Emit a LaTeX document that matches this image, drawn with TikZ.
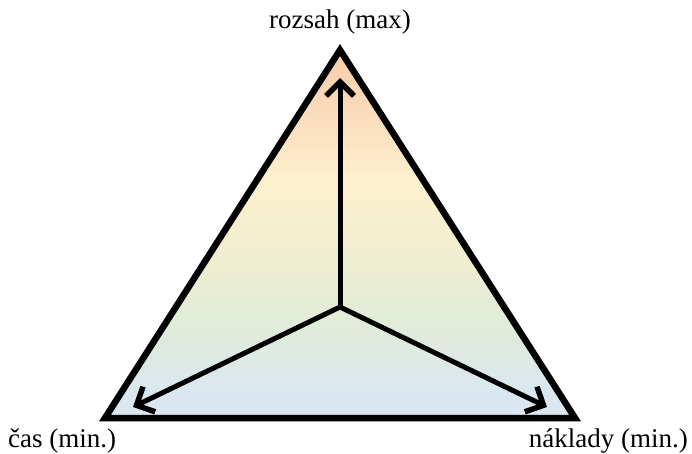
\documentclass[tikz,border=0pt]{standalone}
\usepackage{fontspec}
\setmainfont{Liberation Serif}
\usetikzlibrary{arrows.meta}
\definecolor{cpeach}{HTML}{F7CDA9}
\definecolor{cpeachl}{HTML}{FBDFBF}
\definecolor{cyel}{HTML}{FDF0CF}
\definecolor{cyel2}{HTML}{F1EECF}
\definecolor{cgreen}{HTML}{E2ECD6}
\definecolor{cblue}{HTML}{DAE7F1}
\pgfdeclareverticalshading{tri}{100bp}{color(0bp)=(cblue); color(28bp)=(cblue); color(39bp)=(cgreen); color(48bp)=(cyel2); color(57bp)=(cyel); color(65bp)=(cpeachl); color(75bp)=(cpeach); color(100bp)=(cpeach)}
\tikzset{
  edge/.style={line width=6.5pt, line join=miter},
  arr/.style={line width=5pt, -{Straight Barb[length=14pt,width=28pt,line width=5.5pt]}},
  lab/.style={font=\fontsize{27}{29}\selectfont, inner sep=0pt}
}
\begin{document}
\begin{tikzpicture}[x=1pt,y=-1pt]
\useasboundingbox (0,0) rectangle (692,454);
\coordinate (A) at (340,50);
\coordinate (L) at (105,418);
\coordinate (R) at (575,418);
\coordinate (C) at (340,307);
\coordinate (tA) at (340,78);
\coordinate (tL) at (133,407);
\coordinate (tR) at (547,407);
\shade[shading=tri] (A) -- (L) -- (R) -- cycle;
\draw[edge] (A) -- (L) -- (R) -- cycle;
\draw[arr] (C) -- (tA);
\draw[arr] (C) -- (tL);
\draw[arr] (C) -- (tR);
\node[lab, anchor=base] (top) at (340,29) {rozsah (max)};
\node[lab, anchor=base west] (cas) at (8,447) {čas (min.)};
\node[lab, anchor=base east] (nak) at (688,447) {náklady (min.)};
\end{tikzpicture}
\end{document}
